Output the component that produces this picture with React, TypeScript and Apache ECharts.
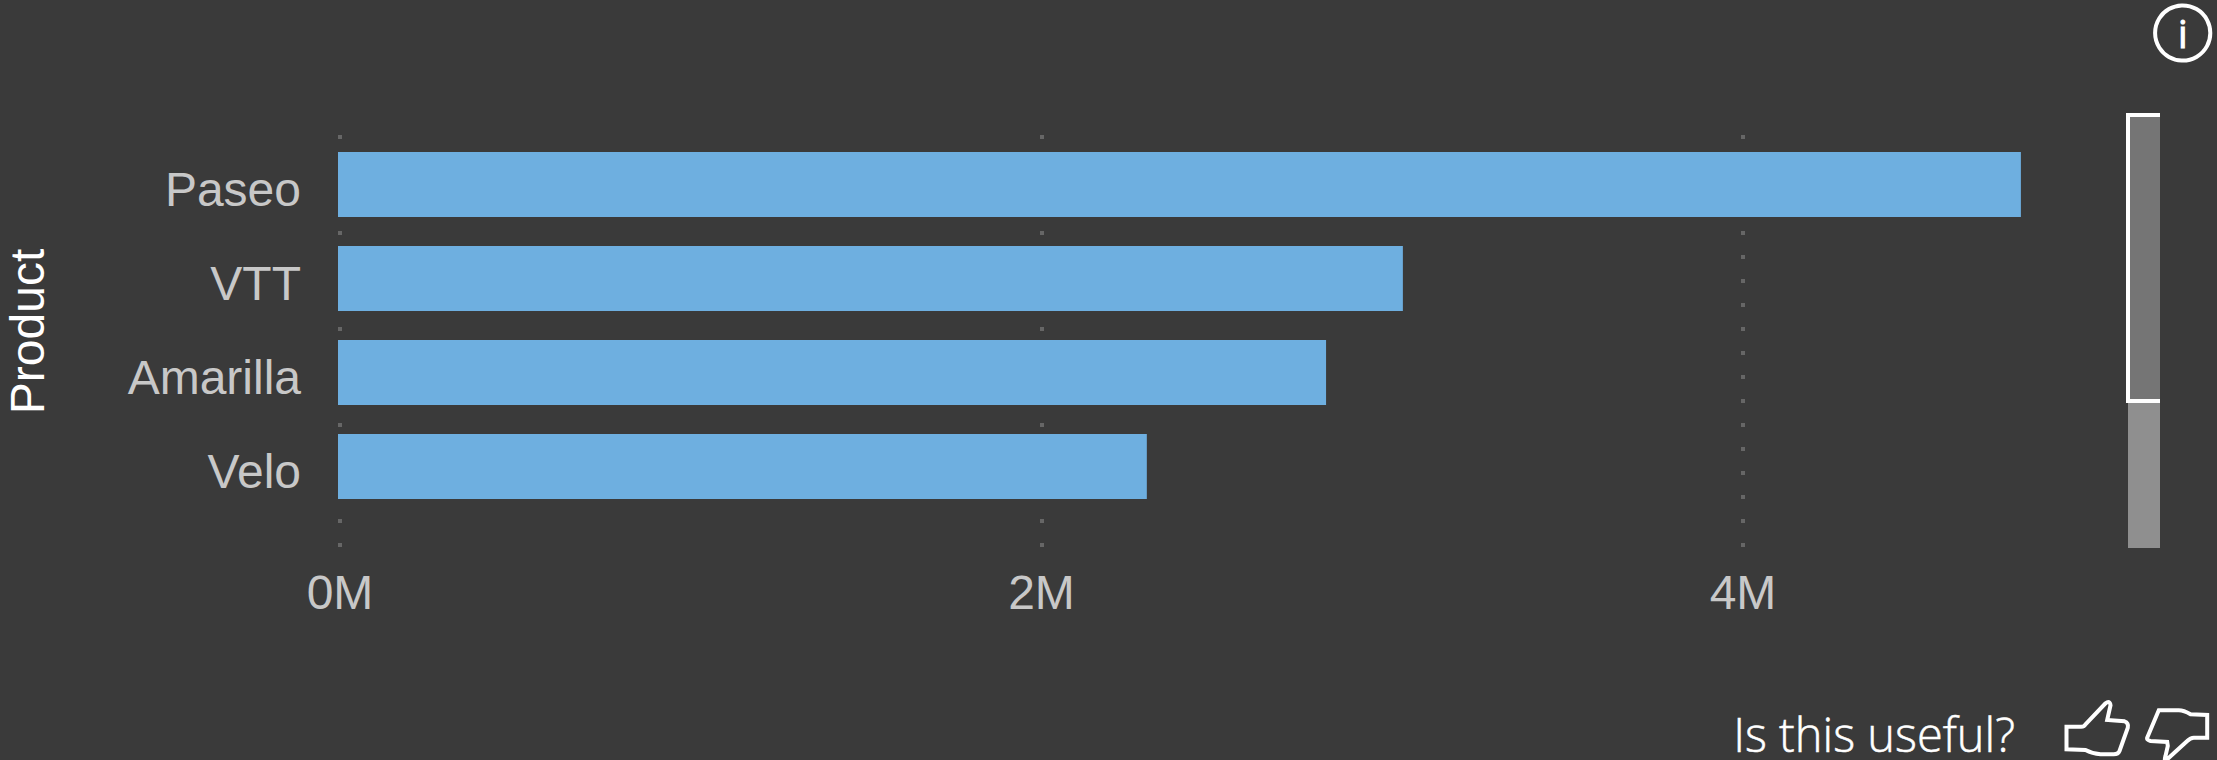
import React, { useEffect, useRef } from "react";
import * as echarts from "echarts";

const categories = ["Paseo", "VTT", "Amarilla", "Velo"];
const salesValues = [4798000, 3036000, 2817000, 2306000];
const AXIS_MAX = 5000000;
const AXIS_STEP = 2000000;

const THUMB_UP =
  "M2066,725.7 L2080.7,725.7 Q2084,725.7 2085,723.3 L2105,702.3 Q2109.3,699 2110,704.3 L2106.7,719 L2124,720.3 Q2128.3,721.7 2127.3,726.7 L2119,750 Q2117.7,753.3 2113.3,753.3 L2100,753.3 Q2091.7,752.7 2085,749 L2066,748.3 Z";
const THUMB_DOWN =
  "M2158.3,709.3 L2178.3,709.3 Q2183.3,709.3 2190,713.3 L2206.7,714 L2206.7,736.7 L2193.3,736.7 Q2190,736.7 2186.7,740 L2166.7,758.3 Q2163,761 2165,755 L2167.3,745 L2166.7,741 L2150,740 Q2146,739 2146.7,736.7 Z";

const BG = "#3A3A3A";
const LABEL = "#C8C8C8";
const FONT = "'Liberation Sans', Arial, sans-serif";
const UI_FONT = "'Open Sans', 'Noto Sans', sans-serif";
const PX_PER_UNIT = 701.5 / AXIS_STEP;
const PLOT_WIDTH = AXIS_MAX * PX_PER_UNIT;

echarts.graphic.registerShape("thumbUpIcon", echarts.graphic.extendPath(THUMB_UP, {}) as any);
echarts.graphic.registerShape("thumbDownIcon", echarts.graphic.extendPath(THUMB_DOWN, {}) as any);

export default function App() {
  const ref = useRef<HTMLDivElement>(null);
  useEffect(() => {
    document.body.style.margin = "0";
    document.body.style.overflow = "hidden";
    const chart = echarts.init(ref.current!, null, { renderer: "svg" });
    const white = { fill: "#FFFFFF" };
    chart.setOption({
      animation: false,
      backgroundColor: BG,
      grid: [
        { left: 338, top: 137.5, width: PLOT_WIDTH, height: 376 },
        { left: 340, top: 135, width: PLOT_WIDTH, height: 412 },
      ],
      xAxis: [
        { type: "value", gridIndex: 0, min: 0, max: AXIS_MAX, show: false },
        {
          type: "value",
          gridIndex: 1,
          min: 0,
          max: AXIS_MAX,
          interval: AXIS_STEP,
          axisLine: { show: false },
          axisTick: { show: false },
          axisLabel: {
            color: LABEL,
            fontFamily: FONT,
            fontSize: 48,
            margin: 21,
            showMaxLabel: false,
            formatter: (v: number) => `${v / 1000000}M`,
          },
          splitLine: {
            show: true,
            showMaxLine: false,
            lineStyle: { color: "#666666", width: 4, type: [4, 20] },
          },
        },
      ],
      yAxis: [
        {
          type: "category",
          gridIndex: 0,
          inverse: true,
          data: categories,
          axisLine: { show: false },
          axisTick: { show: false },
          axisLabel: {
            color: LABEL,
            fontFamily: FONT,
            fontSize: 48,
            margin: 37,
            interval: 0,
            verticalAlign: "top",
            lineHeight: 10,
          },
        },
        { type: "value", gridIndex: 1, show: false, min: 0, max: 1 },
      ],
      series: [
        {
          type: "bar",
          xAxisIndex: 0,
          yAxisIndex: 0,
          data: salesValues,
          barWidth: 65,
          itemStyle: { color: "#6EAFE0" },
        },
      ],
      graphic: [
        {
          type: "text",
          x: 27,
          y: 331.5,
          rotation: Math.PI / 2,
          style: {
            text: "Product",
            fill: "#FFFFFF",
            font: `48px ${FONT}`,
            align: "center",
            verticalAlign: "middle",
          },
        },
        { type: "rect", shape: { x: 2128, y: 117, width: 32, height: 431 }, style: { fill: "#8F8F8F" } },
        { type: "rect", shape: { x: 2130, y: 117, width: 30, height: 282 }, style: { fill: "#757575" } },
        { type: "rect", shape: { x: 2126, y: 113, width: 34, height: 4 }, style: white },
        { type: "rect", shape: { x: 2126, y: 113, width: 4, height: 290 }, style: white },
        { type: "rect", shape: { x: 2126, y: 399, width: 34, height: 4 }, style: white },
        {
          type: "circle",
          shape: { cx: 2182.7, cy: 33, r: 27.6 },
          style: { fill: "none", stroke: "#FFFFFF", lineWidth: 4 },
        },
        {
          type: "text",
          x: 2182.7,
          y: 33,
          style: {
            text: "i",
            fill: "#FFFFFF",
            stroke: "#FFFFFF",
            lineWidth: 1,
            font: `38px ${UI_FONT}`,
            align: "center",
            verticalAlign: "middle",
          },
        },
        {
          type: "text",
          x: 2015,
          y: 734,
          style: {
            text: "Is this useful?",
            fill: "#FFFFFF",
            stroke: "#FFFFFF",
            lineWidth: 0.5,
            font: `300 47px ${UI_FONT}`,
            lineHeight: 40,
            align: "right",
            verticalAlign: "middle",
          },
        },
        { type: "thumbUpIcon", x: 0.5, y: 1, style: { fill: "none", stroke: "#FFFFFF", lineWidth: 4 } },
        { type: "thumbDownIcon", x: 0.5, y: 1, style: { fill: "none", stroke: "#FFFFFF", lineWidth: 4 } },
      ],
    });
    return () => chart.dispose();
  }, []);
  return <div ref={ref} style={{ width: 2217, height: 760 }} />;
}
